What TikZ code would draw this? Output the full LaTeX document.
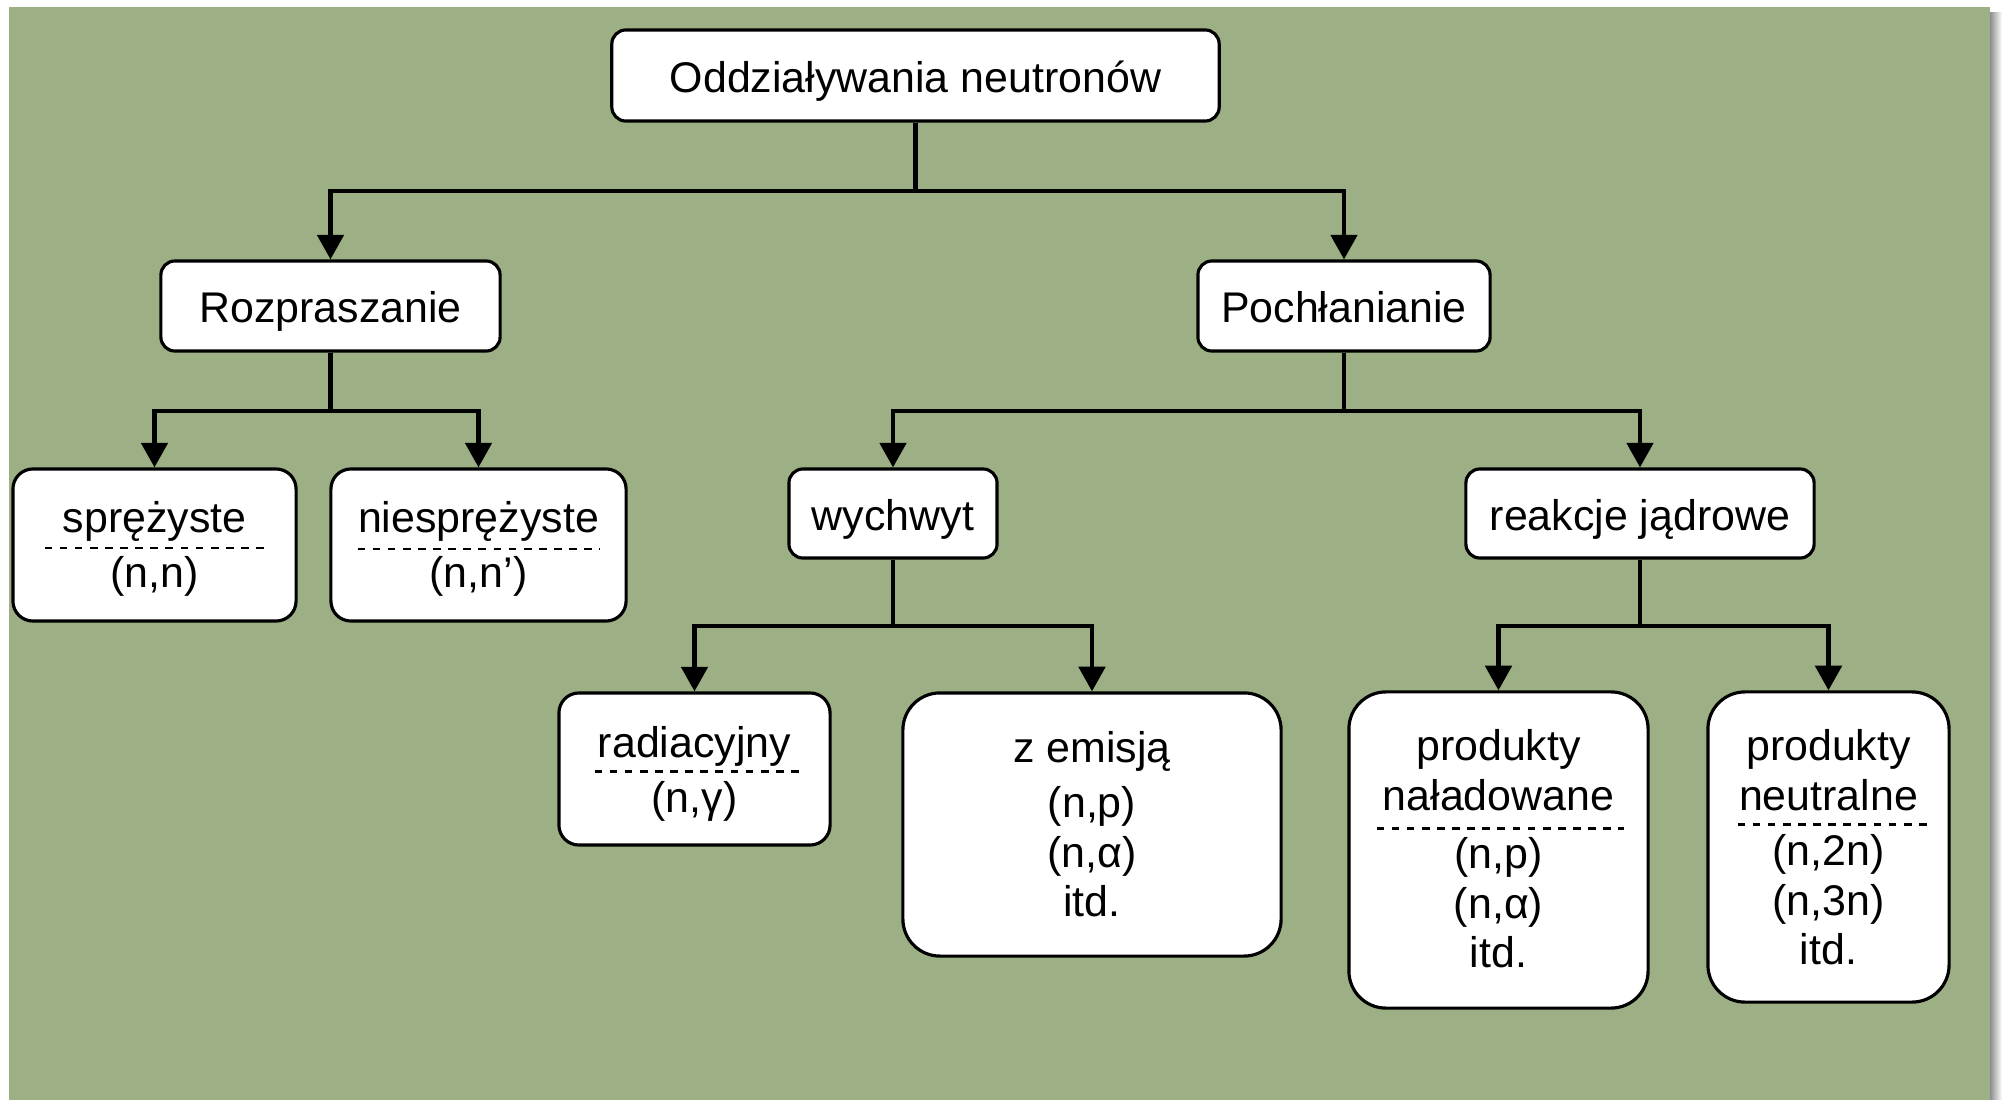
\documentclass[tikz,border=0pt]{standalone}
\usepackage{fontspec}
\setmainfont{Liberation Sans}
\usetikzlibrary{arrows.meta, calc}
\definecolor{bggreen}{RGB}{157,176,133}
\tikzset{boxnode/.style={draw, fill=white, line width=0.9pt, rounded corners=0.14cm,
    align=center, inner sep=0pt, text height=9.4pt, text depth=0pt,
    font=\fontsize{12.2pt}{14.2pt}\selectfont},
  midnode/.style={boxnode, rounded corners=0.2cm, minimum height=1.52cm, text height=23.9pt},
  bignode/.style={boxnode, rounded corners=0.37cm},
  branch/.style={line width=1.15pt, -{Triangle[width=7.5pt, length=7pt]}},
  sepline/.style={line width=0.85pt, dash pattern=on 2.2pt off 2.1pt}}

\begin{document}
\begin{tikzpicture}[x=0.01cm, y=-0.01cm]

\useasboundingbox (0,0) rectangle (2002,1100);
\shade [left color=black!45, right color=white] (1990,12) rectangle (2002,1100);
\fill [bggreen] (9,7) rectangle (1990,1100);

  % nodes
  \node [style = boxnode, minimum width=6.07cm, minimum height=0.91cm] (odd) at (915.5, 75.5) {Oddziaływania neutronów};
  \node [style = boxnode, minimum width=3.39cm, minimum height=0.9cm] (roz) at (330.5, 306) {Rozpraszanie};
  \node [style = boxnode, minimum width=2.92cm, minimum height=0.9cm] (poch) at (1344, 306) {Pochłanianie};

  \node [style = midnode, minimum width=2.83cm] (spr) at (154.5, 545) {sprężyste\\[1.2pt](n,n)};
  \node [style = midnode, minimum width=2.95cm] (niespr) at (478.5, 545) {niesprężyste\\[1.2pt](n,n’)};
  \node [style = boxnode, minimum width=2.08cm, minimum height=0.89cm] (wych) at (893, 513.5) {wychwyt};
  \node [style = boxnode, minimum width=3.48cm, minimum height=0.89cm] (reak) at (1640, 513.5) {reakcje jądrowe};

  \node [style = midnode, minimum width=2.71cm, text height=24.5pt] (rad) at (694.5, 769) {radiacyjny\\[1.4pt](n,γ)};
  \node [style = bignode, minimum width=3.78cm, minimum height=2.63cm, text height=52.6pt] (emis) at (1092, 824.5) {z emisją\\[1.4pt](n,p)\\(n,α)\\itd.};
  \node [style = bignode, minimum width=2.99cm, minimum height=3.16cm, text height=67.1pt] (nal) at (1498.5, 850) {produkty\\naładowane\\[2.3pt](n,p)\\(n,α)\\itd.};
  \node [style = bignode, minimum width=2.41cm, minimum height=3.1cm, text height=67.1pt] (neut) at (1828.5, 847) {produkty\\neutralne\\[1.4pt](n,2n)\\(n,3n)\\itd.};

  % junctions
  \coordinate (j0) at (915.5, 191);
  \coordinate (j1) at (330.5, 411);
  \coordinate (j2) at (1344, 411);
  \coordinate (j3) at (893, 626);
  \coordinate (j4) at (1640, 626);

  % edges
  \draw [branch] (odd) -- (j0) -| (roz);
  \draw [branch] (j0) -| (poch);
  \draw [branch] (roz) -- (j1) -| (spr);
  \draw [branch] (j1) -| (niespr);
  \draw [branch] (poch) -- (j2) -| (wych);
  \draw [branch] (j2) -| (reak);
  \draw [branch] (wych) -- (j3) -| (rad);
  \draw [branch] (j3) -| (emis);
  \draw [branch] (reak) -- (j4) -| (nal);
  \draw [branch] (j4) -| (neut);

  % dashed separators
  \draw [sepline] ($(spr)+(-110,3)$) -- ($(spr)+(110,3)$);
  \draw [sepline] ($(niespr)+(-121,4)$) -- ($(niespr)+(121,4)$);
  \draw [sepline] ($(rad)+(-100,2)$) -- ($(rad)+(105,2)$);
  \draw [sepline] ($(nal)+(-122,-22)$) -- ($(nal)+(125,-22)$);
  \draw [sepline] ($(neut)+(-91,-23)$) -- ($(neut)+(98,-23)$);

\end{tikzpicture}
\end{document}
